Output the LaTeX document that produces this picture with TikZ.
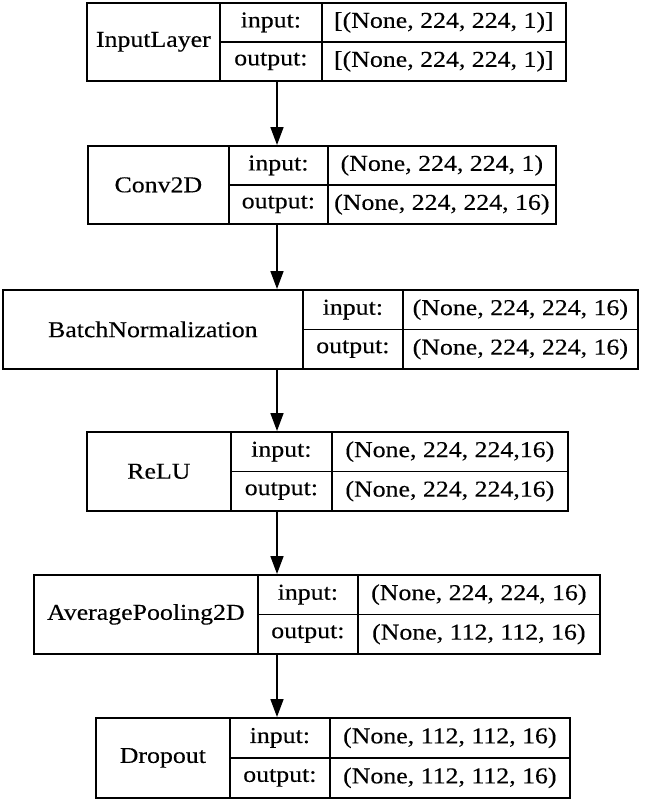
\documentclass[tikz,border=0pt]{standalone}
\usepackage{fontspec}
\setmainfont{Liberation Serif}[FakeStretch=1.14,FakeBold=0.3]
\usetikzlibrary{arrows.meta}
\newcommand\mkcell[6]{%
  \pgfmathsetmacro\cw{(#4-#2)*0.75}%
  \pgfmathsetmacro\ch{(#5-#3)*0.75}%
  \node[cellbox,minimum width=\cw pt,minimum height=\ch pt,anchor=north west] (#1) at (#2,#3) {#6};}
\def\parsegeom#1/#2/#3/#4/#5/#6\relax{\def\gxl{#1}\def\gxa{#2}\def\gxb{#3}\def\gxr{#4}\def\gyt{#5}\def\gyb{#6}}
\newcommand\layer[5]{%
  \parsegeom#2\relax
  \pgfmathsetmacro\gym{(\gyt+\gyb)/2}%
  \mkcell{#1-t}{\gxl}{\gyt}{\gxa}{\gyb}{#3}
  \mkcell{#1-il}{\gxa}{\gyt}{\gxb}{\gym}{input:}
  \mkcell{#1-ol}{\gxa}{\gym}{\gxb}{\gyb}{output:}
  \mkcell{#1-iv}{\gxb}{\gyt}{\gxr}{\gym}{#4}
  \mkcell{#1-ov}{\gxb}{\gym}{\gxr}{\gyb}{#5}}
\begin{document}
\begin{tikzpicture}[x=0.75pt,y=-0.75pt,
  cellbox/.style={draw=black,line width=1.3pt,inner sep=0pt,font=\fontsize{17}{20}\selectfont},
  arr/.style={-{Triangle[length=13.5pt,width=9.75pt]},line width=1.3pt}]
\useasboundingbox (0,0) rectangle (646,799);
\layer{l1}{86/219/321/565/2/80}{InputLayer}{[(None, 224, 224, 1)]}{[(None, 224, 224, 1)]}
\layer{l2}{87/228/327/555/145/223}{Conv2D}{(None, 224, 224, 1)}{(None, 224, 224, 16)}
\layer{l3}{2/302/402/637/289/368}{BatchNormalization}{(None, 224, 224, 16)}{(None, 224, 224, 16)}
\layer{l4}{86/230/331/567/431/510}{ReLU}{(None, 224, 224,16)}{(None, 224, 224,16)}
\layer{l5}{33/257/357/599/574/653}{AveragePooling2D}{(None, 224, 224, 16)}{(None, 112, 112, 16)}
\layer{l6}{95/229/329/569/717/797}{Dropout}{(None, 112, 112, 16)}{(None, 112, 112, 16)}
\coordinate (ax) at (277,0);
\draw[arr] (l1-ol.south -| ax) -- (l2-t.north -| ax);
\draw[arr] (l2-t.south -| ax) -- (l3-t.north -| ax);
\draw[arr] (l3-t.south -| ax) -- (l4-t.north -| ax);
\draw[arr] (l4-t.south -| ax) -- (l5-t.north -| ax);
\draw[arr] (l5-t.south -| ax) -- (l6-t.north -| ax);
\end{tikzpicture}
\end{document}
